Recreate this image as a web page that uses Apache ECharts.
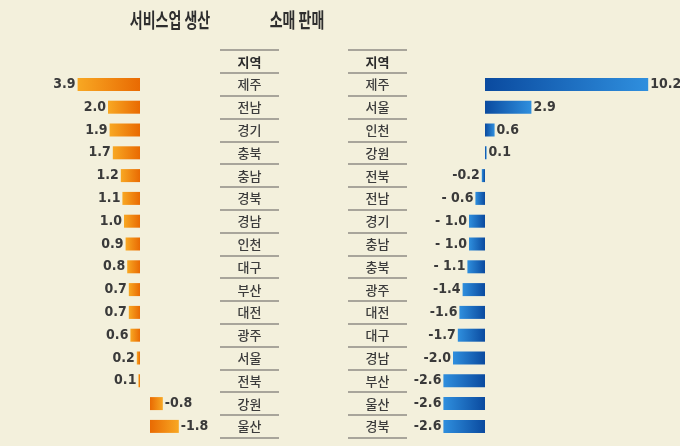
<!DOCTYPE html>
<html>
<head>
<meta charset="utf-8">
<script src="https://cdn.jsdelivr.net/npm/echarts@6/dist/echarts.min.js"></script>
<style>
html,body{margin:0;padding:0;background:#f3f0dc;}
#main{width:680px;height:446px;}
</style>
</head>
<body>
<div id="main"></div>
<script>
// 서비스업 생산 (지역별)
var leftRegions = ['제주','전남','경기','충북','충남','경북','경남','인천','대구','부산','대전','광주','서울','전북','강원','울산'];
var leftValues = [3.9, 2.0, 1.9, 1.7, 1.2, 1.1, 1.0, 0.9, 0.8, 0.7, 0.7, 0.6, 0.2, 0.1, -0.8, -1.8];
// 소매 판매 (지역별)
var rightRegions = ['제주','서울','인천','강원','전북','전남','경기','충남','충북','광주','대전','대구','경남','부산','울산','경북'];
var rightValues = [10.2, 2.9, 0.6, 0.1, -0.2, -0.6, -1.0, -1.0, -1.1, -1.4, -1.6, -1.7, -2.0, -2.6, -2.6, -2.6];
var rightLabelText = ['10.2','2.9','0.6','0.1','-0.2','- 0.6','- 1.0','- 1.0','- 1.1','-1.4','-1.6','-1.7','-2.0','-2.6','-2.6','-2.6'];
var headerText = '지역';

var rowH = 22.8;
var rowTop = 73;
var numFont = "'DejaVu Sans Condensed','Liberation Sans Narrow',sans-serif";
var krFont = "'Noto Sans CJK KR',sans-serif";

function grad(darkAtLeft, light, dark){
	var s = darkAtLeft ? [{offset:0,color:dark},{offset:1,color:light}] : [{offset:0,color:light},{offset:1,color:dark}];
	return new echarts.graphic.LinearGradient(0,0,1,0,s);
}
var orL = '#f8a823', orD = '#e96a02';
var blL = '#2f8fde', blD = '#0a4a9f';

var myChart = echarts.init(document.getElementById('main'));

var cat = [];
for (var i = 0; i < leftValues.length; i++) { cat.push(i); }

function barAxisY(gi){
	return {type:'category', gridIndex:gi, data:cat, inverse:true, show:false};
}
function labelAxisY(gi, names){
	return {
		type:'category', gridIndex:gi, data:[headerText].concat(names), inverse:true,
		axisLine:{show:false}, axisTick:{show:false},
		splitLine:{show:true, lineStyle:{color:'#8f8d86', width:1.5}},
		axisLabel:{
			interval:0, align:'center', margin:-29.5, color:'#3c3c3c', fontSize:13, fontFamily:krFont, fontWeight:500,
			formatter:function(v, idx){ return idx === 0 ? '{h|' + v + '}' : v; },
			rich:{h:{fontWeight:'bold', fontSize:13, color:'#2a2a2a', fontFamily:krFont}}
		}
	};
}

var labelBase = {show:true, color:'#3a3a3a', fontSize:14, fontWeight:'bold', fontFamily:numFont, distance:2,
	formatter:function(p){ return p.value.toFixed(1); }};

var option = {
	backgroundColor:'#f3f0dc',
	animation:false,
	grid:[
		{left:76, width:64, top:rowTop, height:rowH*16},            // 왼쪽 양수
		{left:150, width:32, top:rowTop, height:rowH*16},           // 왼쪽 음수
		{left:437, width:224, top:rowTop, height:rowH*16},          // 오른쪽
		{left:220, width:59, top:rowTop-rowH, height:rowH*17},      // 지역 표 1
		{left:348, width:59, top:rowTop-rowH, height:rowH*17}       // 지역 표 2
	],
	xAxis:[
		{type:'value', gridIndex:0, min:0, max:4, inverse:true, show:false},
		{type:'value', gridIndex:1, min:-2, max:0, inverse:true, show:false},
		{type:'value', gridIndex:2, min:-3, max:11, show:false},
		{type:'value', gridIndex:3, show:false},
		{type:'value', gridIndex:4, show:false}
	],
	yAxis:[
		barAxisY(0), barAxisY(1), barAxisY(2),
		labelAxisY(3, leftRegions), labelAxisY(4, rightRegions)
	],
	graphic:[
		{type:'text', x:170, y:20, scaleX:0.7, style:{text:'서비스업 생산', font:'bold 20px ' + krFont, fill:'#2e2e2e', textAlign:'center', textVerticalAlign:'middle'}},
		{type:'text', x:297, y:20, scaleX:0.7, style:{text:'소매 판매', font:'bold 20px ' + krFont, fill:'#2e2e2e', textAlign:'center', textVerticalAlign:'middle'}}
	],
	series:[
		{
			type:'bar', xAxisIndex:0, yAxisIndex:0, barWidth:13,
			data:leftValues.map(function(v){ return v >= 0 ? v : '-'; }),
			itemStyle:{color:grad(false, orL, orD)},
			label:Object.assign({}, labelBase, {position:'left'})
		},
		{
			type:'bar', xAxisIndex:1, yAxisIndex:1, barWidth:13,
			data:leftValues.map(function(v){ return v < 0 ? v : '-'; }),
			itemStyle:{color:grad(true, orL, orD)},
			label:Object.assign({}, labelBase, {position:'right'})
		},
		{
			type:'bar', xAxisIndex:2, yAxisIndex:2, barWidth:13,
			data:rightValues.map(function(v, i){
				return {
					value:v,
					itemStyle:{color: v >= 0 ? grad(true, blL, blD) : grad(false, blL, blD)},
					label:Object.assign({}, labelBase, {position: v >= 0 ? 'right' : 'left', formatter: rightLabelText[i]})
				};
			})
		}
	]
};
myChart.setOption(option);
</script>
</body>
</html>
